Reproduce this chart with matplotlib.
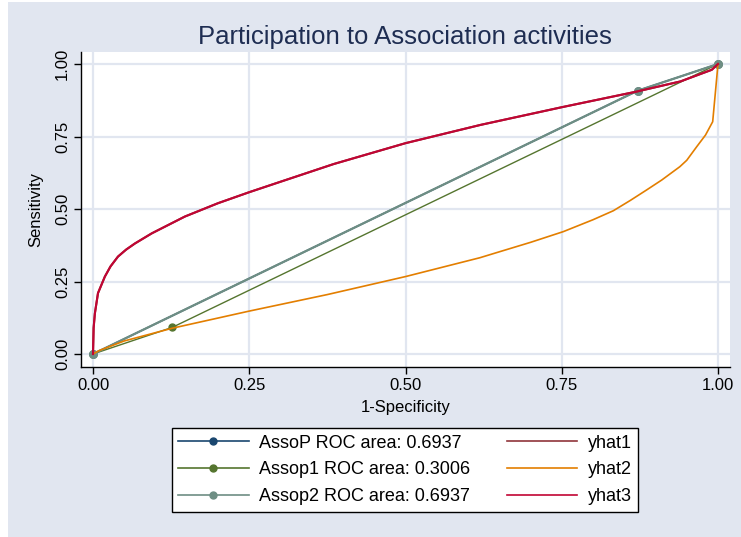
import matplotlib
matplotlib.use("Agg")
import matplotlib.pyplot as plt
from matplotlib.patches import Rectangle

plt.rcParams['font.family'] = ['Liberation Sans', 'DejaVu Sans']

# ---- data ----
title = "Participation to Association activities"
x_label = "1-Specificity"
y_label = "Sensitivity"
ticks = [0.0, 0.25, 0.5, 0.75, 1.0]
tick_labels = ["0.00", "0.25", "0.50", "0.75", "1.00"]

assop_x = [0.0, 0.8715, 1.0]
assop_y = [0.0, 0.908, 1.0]
assop1_x = [0.0, 0.127, 1.0]
assop1_y = [0.0, 0.092, 1.0]
assop2_x = [0.0, 0.8715, 1.0]
assop2_y = [0.0, 0.908, 1.0]

yhat1_x = [0.0, 0.001, 0.003, 0.008, 0.019, 0.028, 0.04, 0.053, 0.067, 0.094, 0.147,
           0.20, 0.25, 0.30, 0.385, 0.50, 0.62, 0.75, 0.87, 0.94, 0.99, 1.0]
yhat1_y = [0.0, 0.09, 0.14, 0.21, 0.267, 0.302, 0.336, 0.36, 0.381, 0.416, 0.474,
           0.52, 0.558, 0.594, 0.655, 0.727, 0.790, 0.851, 0.905, 0.94, 0.98, 1.0]
yhat3_x = list(yhat1_x)
yhat3_y = list(yhat1_y)

yhat2_x = [0.0, 0.01, 0.05, 0.127, 0.25, 0.375, 0.50, 0.619, 0.651, 0.70, 0.7525,
           0.80, 0.8325, 0.86, 0.886, 0.91, 0.939, 0.95, 0.966, 0.98, 0.9915, 1.0]
yhat2_y = [0.0, 0.012, 0.045, 0.089, 0.148, 0.205, 0.267, 0.332, 0.353, 0.385, 0.422,
           0.463, 0.494, 0.53, 0.566, 0.60, 0.646, 0.668, 0.715, 0.755, 0.801, 1.0]

labels = ["AssoP ROC area: 0.6937", "Assop1 ROC area: 0.3006", "Assop2 ROC area: 0.6937",
          "yhat1", "yhat2", "yhat3"]

# ---- style ----
bg = "#e1e6f0"
grid_c = "#e1e6f0"
navy = "#1a476f"
green = "#55752f"
teal = "#6e8e84"
maroon = "#90353b"
orange = "#e37e00"
cranberry = "#c10534"

fig = plt.figure(figsize=(7.41, 5.37), dpi=100, facecolor=bg)
W, H = 741, 537
fig.patches.append(Rectangle((0, 0), 8 / W, 1, transform=fig.transFigure,
                             facecolor="white", edgecolor="none", zorder=-1))
fig.patches.append(Rectangle((0, 1 - 2 / H), 1, 2 / H, transform=fig.transFigure,
                             facecolor="white", edgecolor="none", zorder=-1))

ax = fig.add_axes([81 / W, 1 - 367 / H, (730 - 81) / W, (367 - 52) / H])
ax.set_facecolor("white")
ax.set_xlim(-0.0192, 1.0192)
ax.set_ylim(-0.0448, 1.0414)

ax.plot(assop_x, assop_y, color=navy, lw=1.2, marker="o", ms=5, label=labels[0], zorder=3)
ax.plot(assop1_x, assop1_y, color=green, lw=1.0, marker="o", ms=5, label=labels[1], zorder=4)
ax.plot(assop2_x, assop2_y, color=teal, lw=1.6, marker="o", ms=5.5, label=labels[2], zorder=5)
ax.plot(yhat1_x, yhat1_y, color=maroon, lw=1.5, label=labels[3], zorder=6)
ax.plot(yhat2_x, yhat2_y, color=orange, lw=1.2, label=labels[4], zorder=6)
ax.plot(yhat3_x, yhat3_y, color=cranberry, lw=1.5, label=labels[5], zorder=7)

ax.set_xticks(ticks)
ax.set_xticklabels(tick_labels)
ax.set_yticks(ticks)
ax.set_yticklabels(tick_labels, rotation=90, va="center")
ax.tick_params(axis="both", labelsize=12, length=5, width=1, color="black", pad=3)
ax.grid(True, color=grid_c, lw=1.6)
ax.set_axisbelow(True)
for s in ["top", "right"]:
    ax.spines[s].set_visible(False)
for s in ["left", "bottom"]:
    ax.spines[s].set_linewidth(1.0)
    ax.spines[s].set_color("black")

ax.set_xlabel(x_label, fontsize=12, labelpad=5)
ax.set_ylabel(y_label, fontsize=12, labelpad=8)
fig.text(405 / W, 1 - 37 / H, title, fontsize=18.5, color="#1e2d52", ha="center", va="center")

h, l = ax.get_legend_handles_labels()
leg = fig.legend(h, l, ncol=2, loc="center", bbox_to_anchor=(405 / W, 1 - 470 / H),
                 fontsize=13, frameon=True, fancybox=False, edgecolor="black",
                 facecolor="white", framealpha=1, handlelength=3.9, handletextpad=0.6,
                 columnspacing=2.0, labelspacing=0.55, borderpad=0.35)
leg.get_frame().set_linewidth(1.0)
for ln in leg.get_lines():
    ln.set_linewidth(1.2)
    ln.set_markersize(5)

fig.savefig("out.png", dpi=100, facecolor=bg)
